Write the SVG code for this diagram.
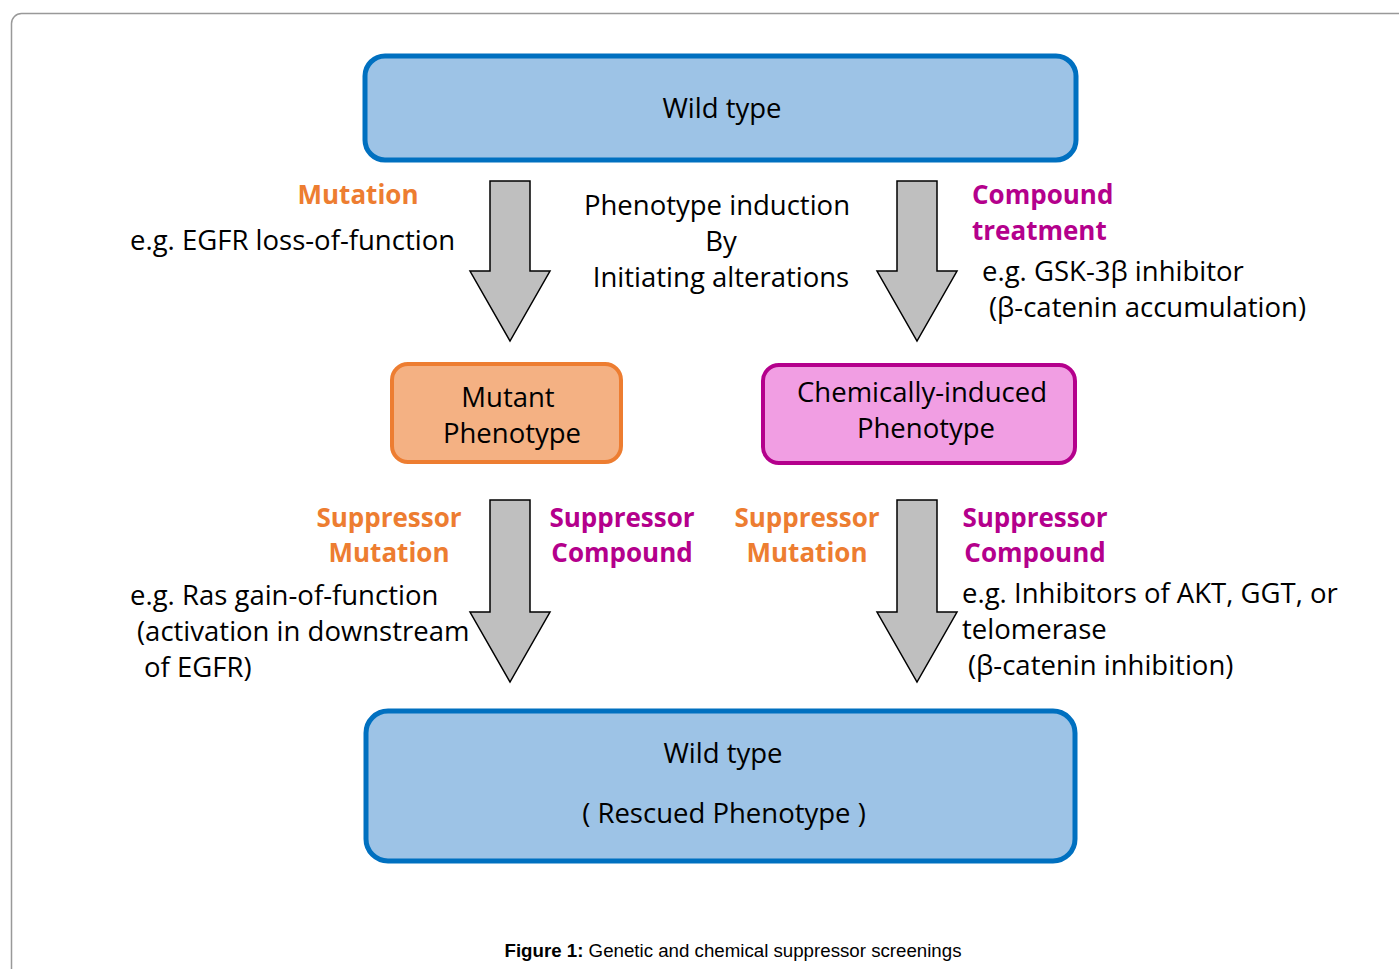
<svg xmlns="http://www.w3.org/2000/svg" width="1399" height="969" viewBox="0 0 1399 969">
<style>
.t{font-family:"Open Sans","Noto Sans","DejaVu Sans",sans-serif;font-size:27.5px;fill:#000}
.b{font-family:"Open Sans","Noto Sans","DejaVu Sans",sans-serif;font-size:26px;font-weight:bold}
.o{fill:#ED7D31}
.m{fill:#B4008C}
.c{text-anchor:middle}
.arrow{fill:#BFBFBF;stroke:#000;stroke-width:1.5;stroke-linejoin:miter}
.blue{fill:#9DC3E6;stroke:#0070C0;stroke-width:5}
.cap{font-family:"Liberation Sans",Arial,sans-serif;font-size:18.7px;fill:#000}
</style>
<rect width="1399" height="969" fill="#fff"/>
<path d="M11.5,990 V23.5 A10,10 0 0 1 21.5,13.5 H1420" fill="none" stroke="#999" stroke-width="1.5"/>
<g id="connectors">
<polygon class="arrow" points="490,181 530,181 530,271 550,271 510,341 470,271 490,271"/>
<polygon class="arrow" points="897,181 937,181 937,271 957,271 917,341 877,271 897,271"/>
<polygon class="arrow" points="490,500 530,500 530,612 550,612 510,682 470,612 490,612"/>
<polygon class="arrow" points="897,500 937,500 937,612 957,612 917,682 877,612 897,612"/>
</g>
<g id="wildtype-top">
<rect class="blue" x="365" y="56" width="711" height="104" rx="20"/>
<text class="t c" x="722" y="118">Wild type</text>
</g>
<g id="mutant">
<rect x="392" y="364" width="229" height="98" rx="16" fill="#F4B183" stroke="#ED7D31" stroke-width="4"/>
<text class="t c" x="508" y="407">Mutant</text>
<text class="t c" x="512" y="443">Phenotype</text>
</g>
<g id="chemical">
<rect x="763" y="365" width="312" height="98" rx="16" fill="#F19EE3" stroke="#B4008C" stroke-width="4"/>
<text class="t c" x="922" y="402">Chemically-induced</text>
<text class="t c" x="926" y="438">Phenotype</text>
</g>
<g id="wildtype-bottom">
<rect class="blue" x="366" y="711" width="709" height="150" rx="22"/>
<text class="t c" x="723" y="763">Wild type</text>
<text class="t c" x="724" y="823">( Rescued Phenotype )</text>
</g>
<g id="labels">
<text class="b o c" x="358" y="204">Mutation</text>
<text class="t" x="130" y="250">e.g. EGFR loss-of-function</text>
<text class="t c" x="717" y="215">Phenotype induction</text>
<text class="t c" x="721" y="251">By</text>
<text class="t c" x="721" y="287">Initiating alterations</text>
<text class="b m" x="972" y="204">Compound</text>
<text class="b m" x="972" y="240">treatment</text>
<text class="t" x="982" y="281">e.g. GSK-3β inhibitor</text>
<text class="t" x="989" y="317">(β-catenin accumulation)</text>
<text class="b o c" x="389" y="527">Suppressor</text>
<text class="b o c" x="389" y="562">Mutation</text>
<text class="b m c" x="622" y="527">Suppressor</text>
<text class="b m c" x="622" y="562">Compound</text>
<text class="b o c" x="807" y="527">Suppressor</text>
<text class="b o c" x="807" y="562">Mutation</text>
<text class="b m c" x="1035" y="527">Suppressor</text>
<text class="b m c" x="1035" y="562">Compound</text>
<text class="t" x="130" y="605">e.g. Ras gain-of-function</text>
<text class="t" x="137" y="641">(activation in downstream</text>
<text class="t" x="144" y="677">of EGFR)</text>
<text class="t" x="962" y="603">e.g. Inhibitors of AKT, GGT, or</text>
<text class="t" x="962" y="639">telomerase</text>
<text class="t" x="968" y="675">(β-catenin inhibition)</text>
</g>
<text class="cap c" x="733" y="957"><tspan font-weight="bold">Figure 1:</tspan> Genetic and chemical suppressor screenings</text>
</svg>
